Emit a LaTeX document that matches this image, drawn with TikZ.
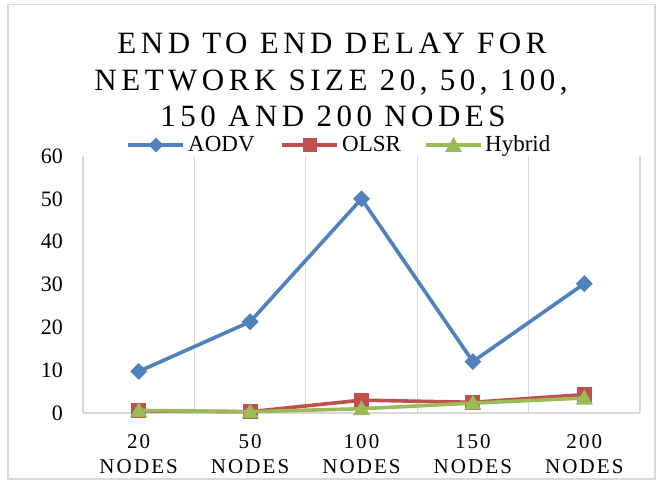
\documentclass[tikz,border=0pt]{standalone}
\usepackage{fontspec}
\setmainfont{Liberation Serif}
\newfontfamily\titlefont[LetterSpace=14.5]{Liberation Serif}
\newfontfamily\catfont[LetterSpace=10]{Liberation Serif}
\usetikzlibrary{shapes.geometric,calc}
\definecolor{aodvc}{HTML}{4F81BD}
\definecolor{olsrc}{HTML}{C0504D}
\definecolor{hybc}{HTML}{9BBB59}
\definecolor{gridc}{HTML}{D9D9D9}
\tikzset{
  gridline/.style={draw=gridc, line width=1.3pt},
  series/.style={line width=3.6pt, line join=round},
  titletext/.style={anchor=base, inner sep=0pt, font=\titlefont\fontsize{31}{36}\selectfont},
  legtext/.style={anchor=base west, inner sep=0pt, font=\fontsize{23}{27}\selectfont},
  ytext/.style={anchor=east, inner sep=0pt, font=\fontsize{22}{26}\selectfont},
  cattext/.style={anchor=base, inner sep=0pt, font=\catfont\fontsize{21}{25}\selectfont},
  dmark/.style={diamond, fill=aodvc, inner sep=0pt, minimum width=17pt, minimum height=17pt},
  smark/.style={rectangle, fill=olsrc, inner sep=0pt, minimum size=15pt},
}
% value on the delay axis -> vertical position
\newcommand{\yv}[1]{413-4.2833*#1}
% green triangle marker centred on a point
\newcommand{\trimark}[1]{\fill[hybc] ($(#1)+(-8.5,6.5)$) -- ($(#1)+(8.5,6.5)$) -- ($(#1)+(0,-8.5)$) -- cycle;}
\begin{document}
\begin{tikzpicture}[x=1pt, y=-1pt]
\useasboundingbox (0,0) rectangle (658,481);
\fill[white] (0,0) rectangle (658,481);
% chart frame
\draw[gridc, line width=1.3pt] (8,4.5) rectangle (655,479);

% title
\node[titletext] (title1) at (332,54) {END TO END DELAY FOR};
\node[titletext] (title2) at (331,90.5) {NETWORK SIZE 20, 50, 100,};
\node[titletext] (title3) at (333,127) {150 AND 200 NODES};

% legend
\draw[aodvc, line width=3.6pt] (128,145) -- (183,145);
\node[dmark, minimum width=15pt, minimum height=15pt] (lgA) at (156,145) {};
\node[legtext] (legA) at (188,152) {AODV};
\draw[olsrc, line width=3.6pt] (282,145) -- (337,145);
\node[smark, minimum size=14pt] (lgO) at (309.5,145) {};
\node[legtext] (legO) at (342,152) {OLSR};
\draw[hybc, line width=3.6pt] (426,145) -- (481,145);
\coordinate (lgH) at (453.5,145.5);
\trimark{lgH}
\node[legtext] (legH) at (485,152) {Hybrid};

% vertical gridlines and category axis
\foreach \i in {0,...,5} {
  \draw[gridline] (83+111.4*\i,156) -- (83+111.4*\i,413);
}
\draw[gridline] (83,413) -- (640,413);

% delay axis labels
\foreach \v in {0,10,...,60} {
  \node[ytext] (y\v) at (63,{\yv{\v}}) {\v};
}

% category labels
\foreach \n [count=\i from 0] in {20,50,100,150,200} {
  \node[cattext] (cn\i) at (138.7+111.4*\i,448) {\n};
  \node[cattext] (cw\i) at (138.7+111.4*\i,473) {NODES};
}

% data points
\foreach \a [count=\i from 0] in {9.7,21.3,50.0,12.0,30.2} {
  \coordinate (a\i) at (138.7+111.4*\i,{\yv{\a}});
}
\foreach \o [count=\i from 0] in {0.5,0.3,3.0,2.5,4.3} {
  \coordinate (o\i) at (138.7+111.4*\i,{\yv{\o}});
}
\foreach \h [count=\i from 0] in {0.6,0.3,1.0,2.3,3.5} {
  \coordinate (h\i) at (138.7+111.4*\i,{\yv{\h}});
}

% AODV series
\draw[series, aodvc] (a0) -- (a1) -- (a2) -- (a3) -- (a4);
\foreach \i in {0,...,4} { \node[dmark] at (a\i) {}; }
% OLSR series
\draw[series, olsrc] (o0) -- (o1) -- (o2) -- (o3) -- (o4);
\foreach \i in {0,...,4} { \node[smark] at (o\i) {}; }
% Hybrid series
\draw[series, hybc] (h0) -- (h1) -- (h2) -- (h3) -- (h4);
\foreach \i in {0,...,4} { \trimark{h\i} }
\end{tikzpicture}
\end{document}
